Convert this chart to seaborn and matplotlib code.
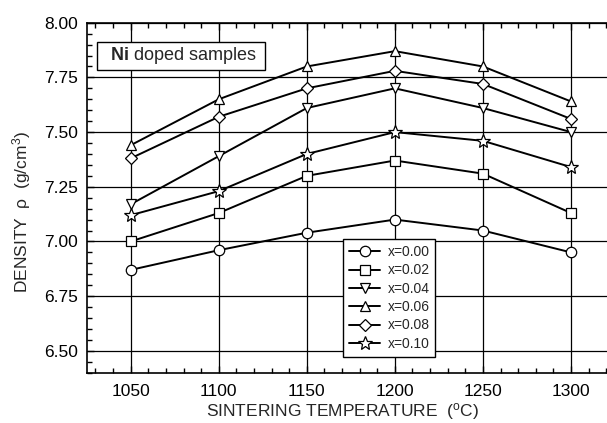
import matplotlib
matplotlib.use("Agg")
import matplotlib.pyplot as plt
from matplotlib.ticker import MultipleLocator, FormatStrFormatter
import seaborn as sns
import pandas as pd

temperatures = [1050, 1100, 1150, 1200, 1250, 1300]
series_labels = ["x=0.00", "x=0.02", "x=0.04", "x=0.06", "x=0.08", "x=0.10"]
density_000 = [6.87, 6.96, 7.04, 7.10, 7.05, 6.95]
density_002 = [7.00, 7.13, 7.30, 7.37, 7.31, 7.13]
density_004 = [7.17, 7.39, 7.61, 7.70, 7.61, 7.50]
density_006 = [7.44, 7.65, 7.80, 7.87, 7.80, 7.64]
density_008 = [7.38, 7.57, 7.70, 7.78, 7.72, 7.56]
density_010 = [7.12, 7.23, 7.40, 7.50, 7.46, 7.34]
series_values = [density_000, density_002, density_004,
                 density_006, density_008, density_010]
marker_list = ["o", "s", "v", "^", "D", "*"]

df = pd.DataFrame({
    "T": temperatures * len(series_labels),
    "rho": [v for vals in series_values for v in vals],
    "series": [lab for lab in series_labels for _ in temperatures],
})

sns.set_style("ticks")
plt.rcParams["font.family"] = ["Liberation Sans", "DejaVu Sans"]
plt.rcParams["mathtext.fontset"] = "custom"
plt.rcParams["mathtext.rm"] = "Liberation Sans"
plt.rcParams["mathtext.it"] = "Liberation Sans"
plt.rcParams["mathtext.bf"] = "Liberation Sans:bold"

fig = plt.figure(figsize=(6.07, 4.23), dpi=100)
ax = fig.add_axes([0.1428, 0.1189, 0.8704, 0.8274])

sns.lineplot(data=df, x="T", y="rho", hue="series", style="series",
             markers=marker_list, dashes=False,
             palette=["black"] * len(series_labels),
             markerfacecolor="white", markeredgecolor="black",
             markeredgewidth=0.9, markersize=7.5, linewidth=1.4,
             legend=False, ax=ax, zorder=3)

for line, m in zip(ax.lines, marker_list):
    if m == "*":
        line.set_markersize(10)
    if m == "D":
        line.set_markersize(6.5)

ax.set_xlim(1025, 1325)
ax.set_ylim(6.40, 8.00)
ax.xaxis.set_major_locator(MultipleLocator(50))
ax.xaxis.set_minor_locator(MultipleLocator(10))
ax.yaxis.set_major_locator(MultipleLocator(0.25))
ax.yaxis.set_minor_locator(MultipleLocator(0.05))
ax.yaxis.set_major_formatter(FormatStrFormatter("%.2f"))
ax.tick_params(which="both", direction="in", top=True, right=True,
               colors="black", labelsize=12.5)
ax.tick_params(which="major", length=5, width=1)
ax.tick_params(which="minor", length=3.5, width=1)
ax.tick_params(axis="x", pad=8)
ax.tick_params(axis="y", pad=6)
ax.grid(True, which="major", color="black", linewidth=0.9)
for sp in ax.spines.values():
    sp.set_color("black")
    sp.set_linewidth(1.2)

ax.set_xlabel("SINTERING TEMPERATURE  ($^{o}$C)", fontsize=12.5)
ax.set_ylabel("DENSITY  ρ  (g/cm$^{3}$)", fontsize=12.5)
ax.xaxis.set_label_coords(0.484, -0.082)
ax.yaxis.set_label_coords(-0.102, 0.46)

leg = ax.legend(handles=ax.lines, labels=series_labels, loc="upper left",
                bbox_to_anchor=(0.4846, 0.3811), borderaxespad=0,
                fontsize=10, frameon=True, fancybox=False, framealpha=1,
                edgecolor="black", handlelength=2.3, labelspacing=0.31,
                handletextpad=0.5, borderpad=0.42)
leg.get_frame().set_linewidth(1.0)
leg.set_zorder(5)

ax.text(0.1785, 0.905, r"  $\mathbf{Ni}$ doped samples  ", transform=ax.transAxes,
        ha="center", va="center", fontsize=13, zorder=6,
        bbox=dict(boxstyle="square,pad=0.18", facecolor="white",
                  edgecolor="black", linewidth=1.0))

fig.savefig("out.png", dpi=100)
